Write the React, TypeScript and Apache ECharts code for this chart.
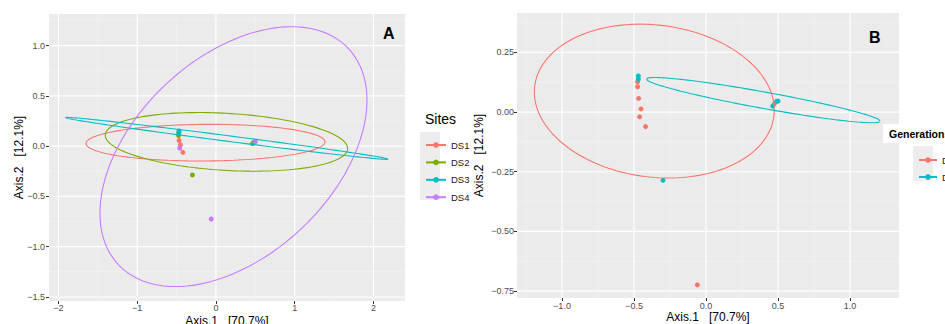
import React, { useEffect, useRef } from "react";
import * as echarts from "echarts";

// ---- data (PCoA scores) ----
const pcoaX = [-0.47, -0.47, -0.475, -0.475, -0.468, -0.451, -0.461, -0.42, -0.299, -0.06, 0.474, 0.463, 0.49, 0.5];
const pcoaY = [0.151, 0.138, 0.127, 0.106, 0.057, 0.013, -0.02, -0.061, -0.286, -0.724, 0.034, 0.025, 0.045, 0.046];
const pointSite = ["DS3", "DS3", "DS1", "DS2", "DS1", "DS1", "DS4", "DS1", "DS2", "DS4", "DS1", "DS2", "DS3", "DS4"];
const pointGen = ["D2", "D2", "D1", "D1", "D1", "D1", "D1", "D1", "D2", "D1", "D1", "D2", "D2", "D2"];

const sites = ["DS1", "DS2", "DS3", "DS4"];
const siteColors = ["#F8766D", "#7CAE00", "#00BFC4", "#C77CFF"];
const generations = ["D1", "D2"];
const genColors = ["#F8766D", "#00BFC4"];

// ellipse outlines: centre, semi-axis vector 1, semi-axis vector 2 (data units)
const siteEllCx = [-0.133, 0.133, 0.137, 0.222];
const siteEllCy = [0.035, 0.043, 0.078, -0.104];
const siteEllV1 = [[1.517, 0.008], [1.539, -0.066], [2.051, -0.207], [1.695, 0.562]];
const siteEllV2 = [[0, 0.182], [0, 0.284], [0, 0.028], [0, 1.164]];
const genEllCx = [-0.359, 0.398];
const genEllCy = [0.046, 0.05];
const genEllV1 = [[0.833, -0.038], [0.81, -0.088]];
const genEllV2 = [[0, 0.32], [0, 0.035]];

// axis ranges
const aXRange = [-2.12, 2.4];
const aYRange = [-1.54, 1.315];
const bXRange = [-1.3125, 1.34];
const bYRange = [-0.779, 0.415];

// ticks
const aXTicks = [-2, -1, 0, 1, 2];
const aXMinor = [-1.5, -0.5, 0.5, 1.5];
const aYTicks = [-1.5, -1.0, -0.5, 0.0, 0.5, 1.0];
const aYMinor = [-1.25, -0.75, -0.25, 0.25, 0.75, 1.25];
const bXTicks = [-1.0, -0.5, 0.0, 0.5, 1.0];
const bXMinor = [-1.25, -0.75, -0.25, 0.25, 0.75, 1.25];
const bYTicks = [-0.75, -0.5, -0.25, 0.0, 0.25];
const bYMinor = [-0.625, -0.375, -0.125, 0.125, 0.375];

const xTitle = "Axis.1   [70.7%]";
const yTitle = "Axis.2   [12.1%]";
const FONT = "'Liberation Sans', Arial, sans-serif";

function ellipse(cx: number, cy: number, v1: number[], v2: number[]) {
  const pts: number[][] = [];
  const n = 160;
  for (let i = 0; i <= n; i++) {
    const t = (2 * Math.PI * i) / n;
    const c = Math.cos(t), s = Math.sin(t);
    pts.push([cx + v1[0] * c + v2[0] * s, cy + v1[1] * c + v2[1] * s]);
  }
  return pts;
}

function fmt(dec: number) {
  return (v: number) => {
    const a = Math.abs(v).toFixed(dec);
    return v < -1e-9 ? "\u2212" + a : a;
  };
}

function majorAxis(gridIndex: number, range: number[], ticks: number[], dec: number,
  name: string, nameGap: number, labelMargin: number, position: string) {
  return {
    type: "value", gridIndex, min: range[0], max: range[1], position, z: 2,
    name, nameLocation: "middle", nameGap, nameMoveOverlap: false,
    nameTextStyle: { fontSize: 12, color: "#000", fontFamily: FONT },
    axisLine: { show: false, onZero: false },
    axisTick: { show: true, length: 3, lineStyle: { color: "#333333", width: 1 }, customValues: ticks },
    axisLabel: { show: true, customValues: ticks, formatter: fmt(dec), fontSize: 9, color: "#4D4D4D", margin: labelMargin, fontFamily: FONT },
    splitLine: { show: false },
  };
}

// grid line rows: [orientation (0 vertical, 1 horizontal), value, major flag]
function gridRows(xMajor: number[], xMinor: number[], yMajor: number[], yMinor: number[]) {
  return [
    ...xMinor.map((v) => [0, v, 0]),
    ...yMinor.map((v) => [1, v, 0]),
    ...xMajor.map((v) => [0, v, 1]),
    ...yMajor.map((v) => [1, v, 1]),
  ];
}

function gridSeries(idx: number, xr: number[], yr: number[], rows: number[][]) {
  return {
    type: "custom", xAxisIndex: idx, yAxisIndex: idx, z: 1, silent: true, clip: false,
    data: rows,
    encode: { x: -1, y: -1 },
    renderItem: (_p: any, api: any) => {
      const o = api.value(0), v = api.value(1), major = api.value(2);
      const p1 = o === 0 ? api.coord([v, yr[0]]) : api.coord([xr[0], v]);
      const p2 = o === 0 ? api.coord([v, yr[1]]) : api.coord([xr[1], v]);
      return {
        type: "line",
        shape: { x1: p1[0], y1: p1[1], x2: p2[0], y2: p2[1] },
        style: { stroke: major ? "#FFFFFF" : "#F4F4F4", lineWidth: major ? 1.2 : 0.6 },
        silent: true,
      };
    },
  };
}

export default function App() {
  const ref = useRef<HTMLDivElement>(null);
  useEffect(() => {
    if (!ref.current) return;
    const chart = echarts.init(ref.current, null, { renderer: "svg" });

    const lineSeries: any[] = [];
    const pointSeries: any[] = [];
    sites.forEach((s, i) => {
      lineSeries.push({
        name: s, type: "line", xAxisIndex: 0, yAxisIndex: 0,
        data: ellipse(siteEllCx[i], siteEllCy[i], siteEllV1[i], siteEllV2[i]),
        showSymbol: false, symbol: "circle", smooth: false, silent: true,
        lineStyle: { color: siteColors[i], width: 1.1, type: "solid" },
        itemStyle: { color: siteColors[i] }, z: 4,
      });
      pointSeries.push({
        name: s, type: "scatter", xAxisIndex: 0, yAxisIndex: 0,
        data: pcoaX.map((x, k) => [x, pcoaY[k]]).filter((_, k) => pointSite[k] === s),
        symbolSize: 5, itemStyle: { color: siteColors[i], opacity: 1 }, silent: true, z: 3,
      });
    });
    generations.forEach((g, i) => {
      lineSeries.push({
        name: g, type: "line", xAxisIndex: 1, yAxisIndex: 1,
        data: ellipse(genEllCx[i], genEllCy[i], genEllV1[i], genEllV2[i]),
        showSymbol: false, symbol: "circle", smooth: false, silent: true,
        lineStyle: { color: genColors[i], width: 1.1, type: "solid" },
        itemStyle: { color: genColors[i] }, z: 4,
      });
      pointSeries.push({
        name: g, type: "scatter", xAxisIndex: 1, yAxisIndex: 1,
        data: pcoaX.map((x, k) => [x, pcoaY[k]]).filter((_, k) => pointGen[k] === g),
        symbolSize: 5, itemStyle: { color: genColors[i], opacity: 1 }, silent: true, z: 3,
      });
    });

    const option: any = {
      animation: false,
      backgroundColor: "#FFFFFF",
      textStyle: { fontFamily: FONT },
      grid: [
        { left: 49, top: 14, width: 356, height: 287, show: true, backgroundColor: "#EBEBEB", borderWidth: 0, z: 0, outerBoundsMode: "none", containLabel: false },
        { left: 517, top: 13, width: 382, height: 285, show: true, backgroundColor: "#EBEBEB", borderWidth: 0, z: 0, outerBoundsMode: "none", containLabel: false },
      ],
      xAxis: [
        majorAxis(0, aXRange, aXTicks, 0, xTitle, 14, 2, "bottom"),
        majorAxis(1, bXRange, bXTicks, 1, xTitle, 13, 3, "bottom"),
      ],
      yAxis: [
        majorAxis(0, aYRange, aYTicks, 1, yTitle, 24, 4, "left"),
        majorAxis(1, bYRange, bYTicks, 2, yTitle, 32, 3, "left"),
      ],
      legend: [
        {
          data: sites, orient: "vertical", left: 420, top: 135,
          itemWidth: 20, itemHeight: 7, itemGap: 7.4, selectedMode: false,
          textStyle: { fontSize: 9.5, color: "#1A1A1A", lineHeight: 10, fontFamily: FONT },
        },
        {
          data: generations, orient: "vertical", left: 913, top: 150,
          itemWidth: 18, itemHeight: 7, itemGap: 7, selectedMode: false,
          textStyle: { fontSize: 9.5, color: "#1A1A1A", lineHeight: 10, fontFamily: FONT },
        },
      ],
      graphic: [
        { type: "rect", z: 1, shape: { x: 420, y: 132, width: 20, height: 68 }, style: { fill: "#EDEDED" } },
        { type: "text", z: 5, left: 425, top: 112, style: { text: "Sites", fontSize: 14, fill: "#000", fontFamily: FONT } },
        { type: "rect", z: 10, shape: { x: 883, y: 124, width: 70, height: 19 }, style: { fill: "#FFFFFF" } },
        { type: "text", z: 11, left: 889, top: 128, style: { text: "Generations", fontSize: 10.5, fontWeight: "bold", fill: "#000", fontFamily: FONT } },
        { type: "rect", z: 1, shape: { x: 913, y: 146, width: 20, height: 35 }, style: { fill: "#EDEDED" } },
        { type: "text", z: 5, left: 383, top: 25, style: { text: "A", fontSize: 16, fontWeight: "bold", fill: "#000", fontFamily: FONT } },
        { type: "text", z: 5, left: 869, top: 29, style: { text: "B", fontSize: 16, fontWeight: "bold", fill: "#000", fontFamily: FONT } },
      ],
      series: [
        gridSeries(0, aXRange, aYRange, gridRows(aXTicks, aXMinor, aYTicks, aYMinor)),
        gridSeries(1, bXRange, bYRange, gridRows(bXTicks, bXMinor, bYTicks, bYMinor)),
        ...lineSeries,
        ...pointSeries,
      ],
    };
    chart.setOption(option);
    return () => chart.dispose();
  }, []);
  return <div ref={ref} style={{ position: "fixed", left: 0, top: 0, width: 945, height: 324 }} />;
}
